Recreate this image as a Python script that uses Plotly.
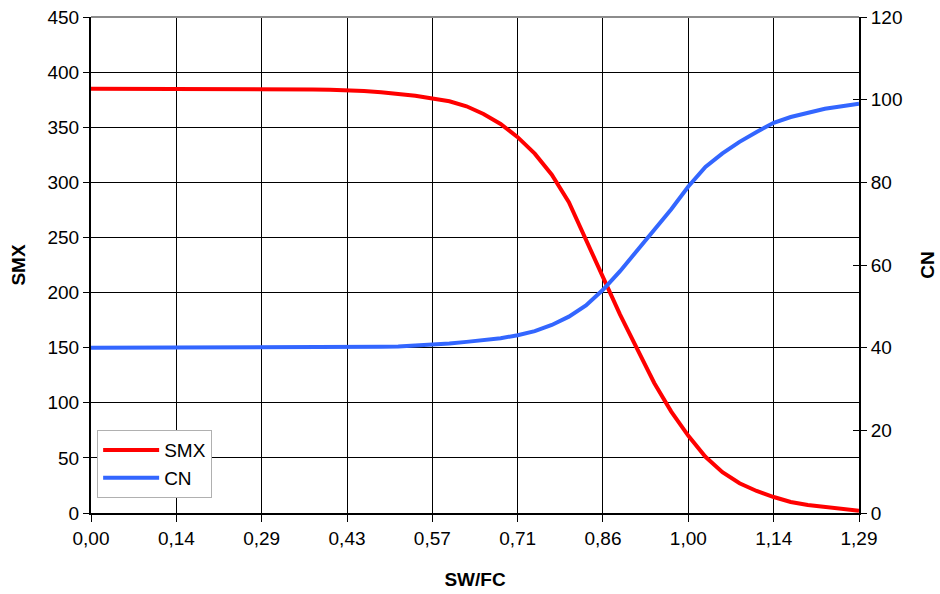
import plotly.graph_objects as go

# Relative soil water (SW/FC) sampled at 46 steps
SW_FC = [0.0, 0.0286, 0.0571, 0.0857, 0.1143, 0.1429, 0.1714, 0.2, 0.2286, 0.2571,
         0.2857, 0.3143, 0.3429, 0.3714, 0.4, 0.4286, 0.4571, 0.4857, 0.5143, 0.5429,
         0.5714, 0.6, 0.6286, 0.6571, 0.6857, 0.7143, 0.7429, 0.7714, 0.8, 0.8286,
         0.8571, 0.8857, 0.9143, 0.9429, 0.9714, 1.0, 1.0286, 1.0571, 1.0857, 1.1143,
         1.1429, 1.1714, 1.2, 1.2286, 1.2571, 1.2857]

SMX = [385, 385, 385, 385, 385, 385, 385, 385, 385, 385,
       384.8, 384.7, 384.5, 384.3, 384.0, 383.6, 382.9, 381.8, 380.3, 378.5,
       376, 373.5, 369, 362, 353, 341, 326, 307, 282, 249,
       214, 180, 148, 118, 92, 70, 51, 37, 27, 20,
       14.5, 10, 7.3, 5.4, 3.6, 2]

CN = [40, 40, 40, 40, 40, 40, 40, 40, 40, 40,
      40, 40, 40, 40, 40, 40, 40.1, 40.2, 40.3, 40.5,
      40.7, 41.0, 41.4, 41.8, 42.3, 43, 44, 45.5, 47.5, 50.2,
      54, 58.5, 63.5, 68.5, 73.5, 79, 83.7, 87, 89.8, 92.2,
      94.4, 95.8, 96.9, 97.8, 98.4, 99]

X_TICKS = SW_FC[::5]
X_TICK_TEXT = ["0,00", "0,14", "0,29", "0,43", "0,57", "0,71", "0,86", "1,00", "1,14", "1,29"]

FONT = "Liberation Sans, Arial, sans-serif"

fig = go.Figure()
fig.add_trace(go.Scatter(x=SW_FC, y=SMX, name="SMX", mode="lines", legendgroup="smx",
                         line=dict(color="#FF0000", width=4), yaxis="y"))
fig.add_trace(go.Scatter(x=SW_FC, y=CN, name="CN", mode="lines", legendgroup="cn",
                         line=dict(color="#3366FF", width=4), yaxis="y2"))
# invisible helper so the inner tick marks on the right axis get drawn
fig.add_trace(go.Scatter(x=[SW_FC[0]], y=[CN[0]], mode="lines", showlegend=False,
                         hoverinfo="skip", line=dict(width=0), yaxis="y3"))

fig.update_layout(
    width=940, height=594,
    margin=dict(l=91, r=81, t=17, b=81, autoexpand=False),
    paper_bgcolor="white", plot_bgcolor="white",
    font=dict(family=FONT, size=19, color="black"),
    showlegend=True,
    legend=dict(x=0.008, y=0.167, xanchor="left", yanchor="top",
                bgcolor="white", bordercolor="#B0B0B0", borderwidth=1,
                font=dict(size=19), itemwidth=56, tracegroupgap=0),
    xaxis=dict(range=[0, SW_FC[-1]], tickvals=X_TICKS, ticktext=X_TICK_TEXT,
               automargin=False,
               showgrid=True, gridcolor="black", gridwidth=1,
               showline=True, linecolor="black", linewidth=2,
               ticks="outside", ticklen=7, tickcolor="black",
               zeroline=False,
               title=dict(text="<b>SW/FC</b>", standoff=25, font=dict(size=19))),
    yaxis=dict(range=[0, 450], dtick=50, tick0=0, automargin=False,
               showgrid=True, gridcolor="black", gridwidth=1,
               showline=True, linecolor="black", linewidth=2,
               ticks="outside", ticklen=6, tickcolor="black",
               zeroline=False,
               title=dict(text="<b>SMX</b>", standoff=17, font=dict(size=19))),
    yaxis2=dict(range=[0, 120], dtick=20, tick0=0, overlaying="y", side="right",
                automargin=False,
                showgrid=False, showline=True, linecolor="black", linewidth=2,
                ticks="outside", ticklen=6, tickcolor="black", zeroline=False,
                title=dict(text="<b>CN</b>", standoff=19, font=dict(size=19))),
    yaxis3=dict(range=[0, 120], dtick=20, tick0=0, overlaying="y", side="right",
                automargin=False,
                showgrid=False, showline=False, showticklabels=False,
                ticks="inside", ticklen=6, tickcolor="black", zeroline=False),
    shapes=[dict(type="line", xref="paper", yref="paper", x0=0, x1=1, y0=1, y1=1,
                 line=dict(color="#8C8C8C", width=2), layer="above")],
)

fig.write_html("out.html")
